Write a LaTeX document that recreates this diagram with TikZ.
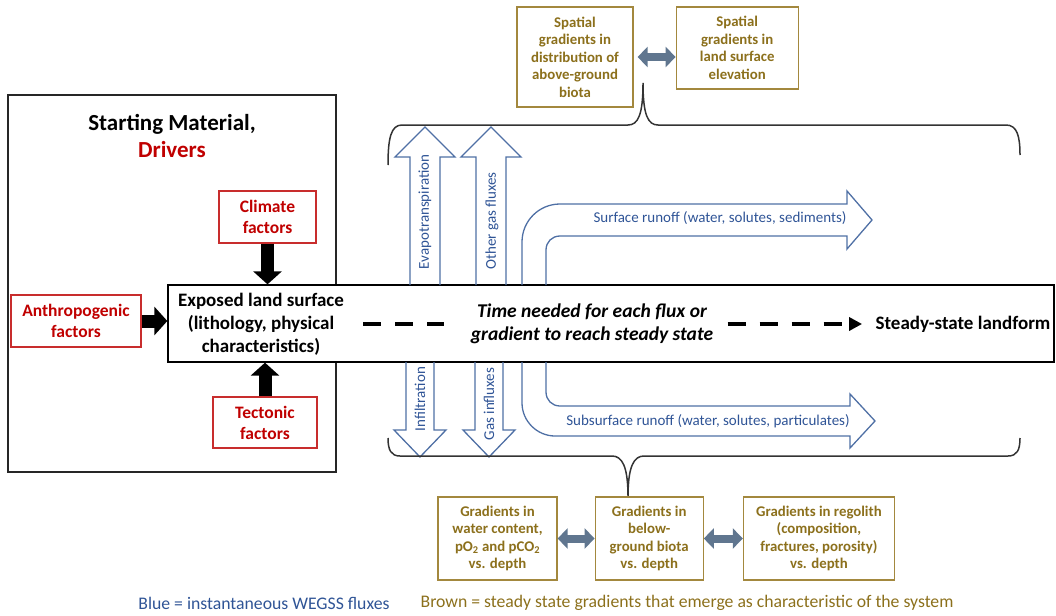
\documentclass[tikz,border=0pt]{standalone}
\usepackage{fontspec}
\setmainfont{Carlito}
\usepackage{tikz}
\usetikzlibrary{arrows.meta, positioning}
\definecolor{drvRed}{RGB}{192, 0, 0}
\definecolor{drvBorder}{RGB}{200, 45, 45}
\definecolor{fluxBlue}{RGB}{79, 112, 165}
\definecolor{fluxText}{RGB}{47, 84, 150}
\definecolor{gradBrown}{RGB}{140, 112, 28}
\definecolor{gradBorder}{RGB}{163, 136, 62}
\definecolor{linkGray}{RGB}{96, 118, 143}

\begin{document}
\begin{tikzpicture}[x=1pt, y=-1pt,
  frame/.style={rectangle, draw=black!85, line width=1.3pt, inner sep=0pt},
  driver/.style={rectangle, draw=drvBorder, line width=1.2pt, fill=white,
                 inner sep=0pt, minimum height=52pt, align=center,
                 text=drvRed, font=\fontsize{17.5}{21}\selectfont\bfseries},
  grad/.style={rectangle, draw=gradBorder, line width=1.2pt, fill=white,
               inner sep=0pt, minimum height=83pt, align=center,
               text=gradBrown, font=\fontsize{14.8}{17.5}\selectfont\bfseries},
  bold16/.style={align=center, font=\fontsize{19}{23}\selectfont\bfseries},
  fluxlbl/.style={text=fluxText, inner sep=0pt, font=\fontsize{15}{17}\selectfont},
  flux/.style={draw=fluxBlue, line width=1.3pt, line join=miter},
  blockarr/.style={line width=13pt, -{Triangle[width=28pt, length=13pt]}},
  twoway/.style={draw=linkGray, line width=8pt,
                 {Triangle[width=20pt, length=10pt]}-{Triangle[width=20pt, length=10pt]}},
  timearr/.style={line width=4pt, dash pattern=on 18pt off 14pt,
                  -{Triangle[width=13pt, length=13pt]}},
  brace/.style={draw=black!80, line width=1.5pt},
  legend/.style={font=\fontsize{17.7}{20}\selectfont},
]
  \useasboundingbox (0,0) rectangle (1056,615);

  \node[frame, minimum width=328pt, minimum height=377pt] (frame) at (172,283.5) {};
  \node[align=center, font=\fontsize{23}{27}\selectfont\bfseries] (start) at (172,136)
       {Starting Material,\\\textcolor{drvRed}{Drivers}};

  \node[draw, line width=1.3pt, fill=white, inner sep=0pt,
        minimum width=886pt, minimum height=77pt] (surf) at (611,323.5) {};

  \draw[flux] (410,285) -- (410,157) -- (395,157) -- (425,127) -- (455,157) -- (440,157) -- (440,285);
  \draw[flux] (476,285) -- (476,157) -- (461,157) -- (491,127) -- (521,157) -- (506,157) -- (506,285);
  \draw[flux] (406,362) -- (406,430) -- (394,430) -- (420,457) -- (446,430) -- (434,430) -- (434,362);
  \draw[flux] (475,362) -- (475,430) -- (463,430) -- (489,457) -- (515,430) -- (503,430) -- (503,362);
  \draw[flux] (522,285) -- (522,242) .. controls (522,221) and (539,204) .. (560,204)
              -- (847,204) -- (847,191) -- (872,220) -- (847,249) -- (847,236) -- (560,236)
              .. controls (552,236) and (546,242) .. (546,250) -- (546,285);
  \draw[flux] (522,362) -- (522,403) .. controls (522,421) and (537,436) .. (555,436)
              -- (850,436) -- (850,448) -- (875,421) -- (850,394) -- (850,406) -- (560,406)
              .. controls (552,406) and (546,400) .. (546,392) -- (546,362);

  \node[fluxlbl, rotate=90] (evap) at (425,212) {Evapotranspiration};
  \node[fluxlbl, rotate=90] (gasout) at (492,221) {Other gas fluxes};
  \node[fluxlbl, rotate=90] (infil) at (420,399) {Infiltration};
  \node[fluxlbl, rotate=90] (gasin) at (489,404) {Gas influxes};
  \node[fluxlbl] (runoff) at (720,218) {Surface runoff (water, solutes, sediments)};
  \node[fluxlbl] (subrun) at (708,421) {Subsurface runoff (water, solutes, particulates)};

  \node[bold16] (land) at (261,324) {Exposed land surface\\(lithology, physical\\characteristics)};
  \node[bold16, font=\fontsize{19.5}{23}\selectfont\bfseries\itshape] (timetxt) at (592,324)
       {Time needed for each flux or\\gradient to reach steady state};
  \node[bold16] (steady) at (963,324) {Steady-state landform};

  \draw[timearr, -, shorten <=16pt, shorten >=23pt] (land.east) -- (timetxt.west);
  \draw[timearr, shorten <=11pt, shorten >=10pt] (timetxt.east) -- (steady.west);

  \node[driver, minimum width=97pt] (climate) at (267.5,217) {Climate\\factors};
  \node[driver, minimum width=104pt, minimum height=51pt] (tecto) at (265,422.5) {Tectonic\\factors};
  \node[driver, minimum width=130pt] (anthro) at (76,321) {Anthropogenic\\factors};

  \draw[blockarr] (climate.south) -- (climate.south |- surf.north);
  \draw[blockarr] (tecto.north) -- (tecto.north |- surf.south);
  \draw[blockarr] (anthro.east) -- (anthro.east -| surf.west);

  \draw[brace] (388,165) .. controls (388,138) and (391,125) .. (402,125) -- (628,125)
               .. controls (638,125) and (643,115) .. (643,83)
               .. controls (643,115) and (648,125) .. (658,125) -- (1006,125)
               .. controls (1017,125) and (1020,136) .. (1020,155);
  \draw[brace] (388,438) .. controls (388,450) and (391,456) .. (400,456) -- (612,456)
               .. controls (622,456) and (628,466) .. (628,497)
               .. controls (628,466) and (634,456) .. (644,456) -- (1008,456)
               .. controls (1017,456) and (1020,450) .. (1020,438);

  \node[grad, minimum width=116pt, minimum height=100pt] (gA) at (575,57)
       {Spatial\\gradients in\\distribution of\\above-ground\\biota};
  \node[grad, minimum width=122pt, minimum height=82pt, right=42pt of gA.north east,
        anchor=north west] (gB) {Spatial\\gradients in\\land surface\\elevation};
  \draw[twoway, shorten <=4pt] (gA.east) -- (gA.east -| gB.west);

  \node[grad, minimum width=119pt] (g1) at (497.5,538.5)
       {Gradients in\\water content,\\pO\textsubscript{2} and pCO\textsubscript{2}\\vs. depth};
  \node[grad, minimum width=108pt, right=37pt of g1] (g2) {Gradients in\\below-\\ground biota\\vs. depth};
  \node[grad, minimum width=151pt, right=39pt of g2] (g3)
       {Gradients in regolith\\(composition,\\fractures, porosity)\\vs. depth};
  \draw[twoway] (g1) -- (g2);
  \draw[twoway] (g2) -- (g3);

  \node[legend, text=fluxText] (legBlue) at (264,603) {Blue = instantaneous WEGSS fluxes};
  \node[legend, text=gradBrown] (legBrown) at (687,603)
       {Brown = steady state gradients that emerge as characteristic of the system};
\end{tikzpicture}
\end{document}
